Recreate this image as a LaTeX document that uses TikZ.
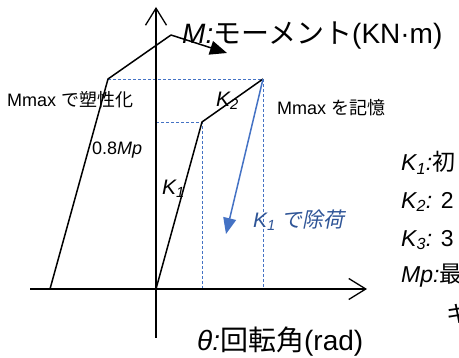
\documentclass[tikz,border=0pt]{standalone}
\usepackage{fontspec}
\setmainfont{Liberation Sans}
\newfontfamily\jp{Noto Sans CJK JP}
\newfontfamily\jpit[FakeSlant=0.2]{Noto Sans CJK JP}
\usetikzlibrary{arrows.meta}
\definecolor{ublue}{HTML}{4472C4}
\definecolor{tblue}{HTML}{2F5597}
\begin{document}
\begin{tikzpicture}[x=1pt,y=-1pt,
  curve/.style={line width=1.5pt, line join=miter},
  axisline/.style={line width=1.3pt, -{Straight Barb[length=17pt,width=21pt]}},
  guide/.style={ublue, line width=0.9pt, dash pattern=on 3pt off 2pt},
  lbl/.style={inner sep=0pt, anchor=west, font=\fontsize{18}{20}\selectfont},
  big/.style={inner sep=0pt, anchor=west, font=\fontsize{28}{30}\selectfont},
  leg/.style={inner sep=0pt, anchor=west, font=\fontsize{23}{25}\selectfont}]
\useasboundingbox (0,0) rectangle (459,358);
% points
\coordinate (O) at (156,289);
\coordinate (Vt) at (156,7);
\coordinate (Vb) at (156,338);
\coordinate (Hl) at (30,289);
\coordinate (Hr) at (367,289);
\coordinate (A0) at (50,289);
\coordinate (A1) at (108,79);
\coordinate (A2) at (171,35);
\coordinate (A3) at (227,53);
\coordinate (B1) at (202,122);
\coordinate (B2) at (263,79);
\coordinate (Bd) at (263,289);
\coordinate (B1d) at (202,289);
\coordinate (Ay) at (156,122);
\coordinate (Bend) at (226,234);
% guides
\draw[guide] (A1) -- (B2) -- (Bd);
\draw[guide] (Ay) -- (B1) -- (B1d);
% axes
\draw[axisline] (Vb) -- (Vt);
\draw[axisline] (Hl) -- (Hr);
% curves
\draw[curve] (A0) -- (A1) -- (A2);
\draw[curve, -{Triangle[length=17pt,width=14pt]}] (A2) -- (A3);
\draw[curve] (O) -- (B1) -- (B2);
\draw[ublue, line width=1.5pt, -{Triangle[length=16pt,width=13pt]}] (B2) -- (Bend);
% labels
\node[big] (mlab) at (182,36) {{\itshape M:}{\jp モーメント}(KN·m)};
\node[big] (tlab) at (197,342) {{\itshape θ:}{\jp 回転角}(rad)};
\node[lbl] (plas) at (7,100) {Mmax {\jp で塑性化}};
\node[lbl] (memo) at (277,108) {Mmax {\jp を記憶}};
\node[lbl] (mp) at (92,150) {0.8{\itshape Mp}};
\node[lbl, font=\fontsize{21}{23}\selectfont\itshape] (k2) at (216,101) {K\textsubscript{2}};
\node[lbl, font=\fontsize{21}{23}\selectfont\itshape] (k1) at (162,189) {K\textsubscript{1}};
\node[lbl, text=tblue, font=\fontsize{21}{23}\selectfont] (unl) at (253,220) {{\itshape K\textsubscript{1}} {\jpit で除荷}};
\begin{scope}
\clip (0,0) rectangle (459,358);
\node[leg] (l1) at (401,163) {{\itshape K\textsubscript{1}:}{\jp 初}};
\node[leg] (l2) at (401,202) {{\itshape K\textsubscript{2}:} 2};
\node[leg] (l3) at (401,240) {{\itshape K\textsubscript{3}:} 3};
\node[leg] (l4) at (401,276) {{\itshape Mp:}{\jp 最}};
\node[leg] (l5) at (446,314) {{\jp キ}};
\end{scope}
\end{tikzpicture}
\end{document}
